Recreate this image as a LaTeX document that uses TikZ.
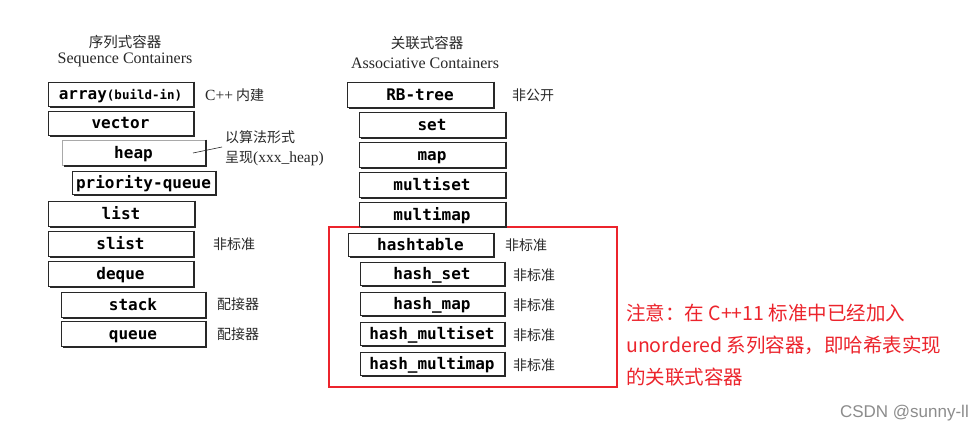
\documentclass[tikz,border=0pt]{standalone}
\usepackage{fontspec}
\setmainfont{Liberation Serif}
\newfontfamily\cjk{Noto Sans CJK SC}
\newfontfamily\monof{DejaVu Sans Mono}
\newfontfamily\wmfont{Liberation Sans}
\definecolor{noteRed}{RGB}{236,36,44}
\definecolor{scanInk}{RGB}{40,40,40}
\tikzset{
  cbox/.style={draw=scanInk, line width=0.7pt, fill=white, inner sep=0pt,
    font=\monof\bfseries\fontsize{16}{16}\selectfont, text=black,
    text height=14pt, text depth=2pt},
  shadowline/.style={draw=scanInk, line width=2.2pt},
  cjklabel/.style={anchor=west, inner sep=0pt, text=scanInk,
    font=\cjk\fontsize{14}{14}\selectfont, text height=11.6pt, text depth=1pt},
  title/.style={inner sep=0pt, text=scanInk},
  note/.style={anchor=west, inner sep=0pt, text=noteRed,
    font=\cjk\fontsize{19.5}{19.5}\selectfont, text height=16.2pt, text depth=1.4pt},
}
\begin{document}
\begin{tikzpicture}[x=1pt, y=-1pt]
\useasboundingbox (0,0) rectangle (973,430);
\fill[white] (0,0) rectangle (973,430);

% titles
\node[title, font=\cjk\fontsize{14.5}{14.5}\selectfont] (t1c) at (125,42) {序列式容器};
\node[title, font=\fontsize{16}{16}\selectfont] (t1e) at (125,60) {Sequence Containers};
\node[title, font=\cjk\fontsize{14.5}{14.5}\selectfont] (t2c) at (427,43) {关联式容器};
\node[title, font=\fontsize{16}{16}\selectfont] (t2e) at (425,63) {Associative Containers};

% red frame
\draw[noteRed, line width=1.4pt] (329,227) rectangle (617,387);

% left column boxes
\node[cbox, minimum width=145pt, minimum height=24pt] (array) at (120.5,94) {array{\fontsize{12.5}{12.5}\selectfont(build-in)}};
\node[cbox, minimum width=145pt, minimum height=24pt] (vector) at (120.5,123) {vector};
\node[cbox, minimum width=143pt, minimum height=25pt, draw=scanInk!40] (heap) at (133.5,152.5) {heap};
\node[cbox, minimum width=143pt, minimum height=23pt] (pq) at (143.5,182.5) {priority-queue};
\node[cbox, minimum width=146pt, minimum height=25pt] (list) at (121,213.5) {list};
\node[cbox, minimum width=145pt, minimum height=25pt] (slist) at (120.5,243.5) {slist};
\node[cbox, minimum width=145pt, minimum height=25pt] (deque) at (120.5,273.5) {deque};
\node[cbox, minimum width=144pt, minimum height=25pt] (stack) at (133,304.5) {stack};
\node[cbox, minimum width=144pt, minimum height=25pt] (queue) at (133,333.5) {queue};

% right column boxes
\node[cbox, minimum width=146pt, minimum height=25pt] (rbtree) at (420,94.5) {RB-tree};
\node[cbox, minimum width=146pt, minimum height=25pt] (set) at (432,124.5) {set};
\node[cbox, minimum width=146pt, minimum height=25pt] (map) at (432,154.5) {map};
\node[cbox, minimum width=146pt, minimum height=25pt] (multiset) at (432,184.5) {multiset};
\node[cbox, minimum width=146pt, minimum height=24pt] (multimap) at (432,214) {multimap};
\node[cbox, minimum width=145pt, minimum height=23pt] (hashtable) at (420.5,244.5) {hashtable};
\node[cbox, minimum width=144pt, minimum height=23pt] (hset) at (432,273.5) {hash\_set};
\node[cbox, minimum width=144pt, minimum height=23pt] (hmap) at (432,303.5) {hash\_map};
\node[cbox, minimum width=144pt, minimum height=23pt] (hmset) at (432,333.5) {hash\_multiset};
\node[cbox, minimum width=144pt, minimum height=23pt] (hmmap) at (432,363.5) {hash\_multimap};

% drop shadows (right and bottom edges)
\foreach \n in {array,vector,heap,pq,list,slist,deque,stack,queue,
                rbtree,set,map,multiset,multimap,hashtable,hset,hmap,hmset,hmmap}{
  \draw[shadowline] ([xshift=1pt]\n.north east) -- ([xshift=1pt,yshift=-1pt]\n.south east) -- ([xshift=2pt,yshift=-1pt]\n.south west);
}

% side labels, left
\node[cjklabel] (lbarray) at (205,95) {{\fontspec{Liberation Serif}\fontsize{15.5}{15.5}\selectfont C++} 内建};
\node[cjklabel] (lbheapa) at (225,137) {以算法形式};
\node[cjklabel] (lbheapb) at (225,157) {呈现{\fontspec{Liberation Serif}\fontsize{15.5}{15.5}\selectfont(xxx\_heap)}};
\node[cjklabel] (lbslist) at (213,244) {非标准};
\node[cjklabel] (lbstack) at (217,304) {配接器};
\node[cjklabel] (lbqueue) at (217,334) {配接器};

% leader from heap to its note
\coordinate (hl) at (193,153);
\coordinate (hr) at (222,147);
\draw[scanInk, line width=0.6pt] (hl) -- (hr);

% side labels, right
\node[cjklabel] (lbrb) at (512,95) {非公开};
\node[cjklabel] (lbht) at (505,245) {非标准};
\node[cjklabel] (lbhs) at (513,275) {非标准};
\node[cjklabel] (lbhm) at (513,305) {非标准};
\node[cjklabel] (lbhms) at (513,335) {非标准};
\node[cjklabel] (lbhmm) at (513,365) {非标准};

% red note
\node[note] (n1) at (626,313) {注意：在 C++11 标准中已经加入};
\node[note] (n2) at (626,345) {unordered 系列容器，即哈希表实现};
\node[note] (n3) at (626,377) {的关联式容器};

% watermark
\node[anchor=east, inner sep=0pt, text=black!45, font=\wmfont\fontsize{17}{17}\selectfont] (wm) at (969,413) {CSDN @sunny-ll};
\end{tikzpicture}
\end{document}
